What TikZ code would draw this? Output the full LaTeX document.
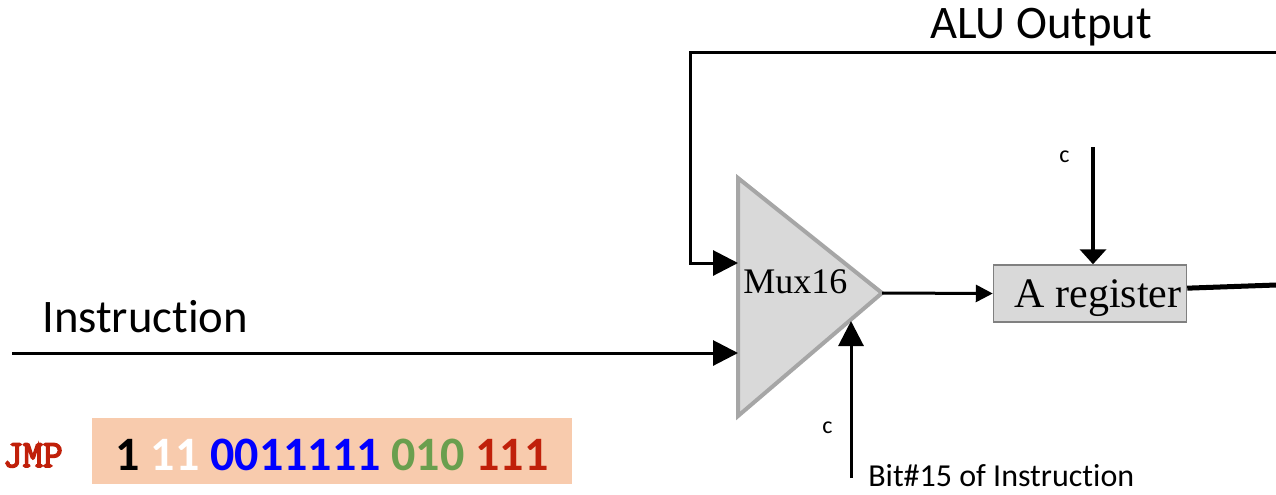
\documentclass[tikz,border=0pt]{standalone}
\usepackage{fontspec}
\setmainfont{Carlito}[Ligatures={NoCommon,NoRare}]
\newfontfamily\serifface{Liberation Serif}
\newfontfamily\jmpface{Latin Modern Mono}[FakeBold=4]
\usetikzlibrary{arrows.meta}

\definecolor{boxgray}{HTML}{D9D9D9}
\definecolor{muxedge}{HTML}{A6A6A6}
\definecolor{regedge}{HTML}{808080}
\definecolor{peach}{HTML}{F8CBAD}
\definecolor{jmpred}{RGB}{192,32,10}
\definecolor{destgreen}{HTML}{6A9F4E}

\tikzset{
  wire/.style={line width=2.25pt},
  bigtip/.style={-{Triangle[length=18.75pt,width=18.75pt]}},
  smalltip/.style={-{Triangle[length=12.75pt,width=12.75pt]}},
  flattip/.style={-{Triangle[length=11.25pt,width=19.5pt]}},
  regbox/.style={draw=regedge, line width=1.1pt, fill=boxgray,
    minimum width=144.75pt, minimum height=42.75pt, inner sep=0pt},
  codebox/.style={fill=peach, minimum width=360pt, minimum height=49.5pt,
    text height=28.5pt, text depth=0pt, inner sep=0pt},
  bigsans/.style={font=\fontsize{35}{40}\selectfont, inner sep=0pt},
  smallsans/.style={font=\fontsize{18}{20}\selectfont, inner sep=0pt}
}

\begin{document}
\begin{tikzpicture}[x=0.75pt,y=-0.75pt]
\useasboundingbox (0,0) rectangle (1276,494);

% the 16-bit multiplexer
\filldraw[fill=boxgray, draw=muxedge, line width=3pt] (738,178) -- (882,293) -- (738,416) -- cycle;
\coordinate (mux in1) at (738,263);
\coordinate (mux in2) at (738,353);
\coordinate (mux out) at (882,293);
\coordinate (mux sel) at (851,321);
\node[anchor=base west, inner sep=0pt, font=\serifface\fontsize{27}{30}\selectfont] (mux) at (743,293) {Mux16};

% A register
\node[regbox] (areg) at (1090,293.5) {};
\node[anchor=base, inner sep=0pt, font=\serifface\fontsize{31.5}{36}\selectfont] (aregtext) at (1098,307) {A register};

% instruction word
\node[codebox, font=\bfseries\fontsize{36}{40}\selectfont] (code) at (332,451)
  {1 \textcolor{white}{11} \textcolor{blue}{0011111} \textcolor{destgreen}{010} \textcolor{jmpred}{111}};
\node[anchor=base east, inner sep=0pt, text=jmpred, font=\jmpface\fontsize{29}{32}\selectfont] (jmp) at (63,467) {JMP};

% labels
\node[bigsans, anchor=base] (alulabel) at (1041,38) {ALU Output};
\node[bigsans, anchor=base west] (instrlabel) at (42,332) {Instruction};
\node[smallsans, anchor=base west] (cA) at (1059,162) {c};
\node[smallsans, anchor=base west] (cmux) at (822,433) {c};
\node[anchor=base west, inner sep=0pt, font=\fontsize{24}{28}\selectfont] (bitlabel) at (868,486) {Bit\#15 of Instruction};

% wires
\coordinate (alu) at (1276,52);
\coordinate (fb) at (690,263);
\coordinate (instr) at (12,353);
\coordinate (clkA) at (1093,147);
\coordinate (sel) at (851,478);
\coordinate (aout) at (1276,285);

\draw[wire, bigtip] (alu) -| (fb) -- (mux in1);
\draw[wire, bigtip] (instr) -- (mux in2);
\draw[wire, smalltip] (mux out) -- (areg.west);
\draw[line width=3pt, flattip] (clkA) -- (clkA |- areg.north);
\draw[wire, bigtip] (sel) -- (mux sel);
\draw[line width=3.75pt] ([yshift=4pt]areg.east) -- (aout);
\end{tikzpicture}
\end{document}
